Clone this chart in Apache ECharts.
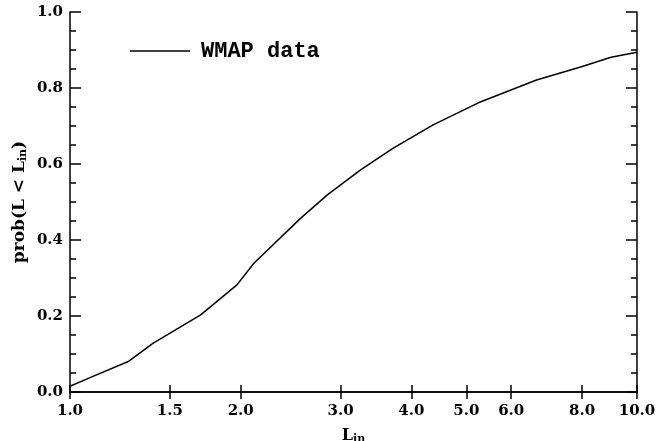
<!DOCTYPE html>
<html>
<head>
<meta charset="utf-8">
<script src="https://cdn.jsdelivr.net/npm/echarts@6/dist/echarts.min.js"></script>
<style>html,body{margin:0;padding:0;background:#fff;}#c{width:656px;height:441px;}</style>
</head>
<body>
<div id="c"></div>
<script>
const xValues = [1.00, 1.09, 1.27, 1.40, 1.70, 1.97, 2.11, 2.55, 2.84, 3.25, 3.71, 4.37, 5.25, 6.65, 7.98, 9.0, 10.0];
const yValues = [0.015, 0.039, 0.081, 0.128, 0.203, 0.282, 0.339, 0.457, 0.518, 0.584, 0.641, 0.703, 0.761, 0.821, 0.856, 0.881, 0.894];
const xTicks = [1.0, 1.5, 2.0, 3.0, 4.0, 5.0, 6.0, 8.0, 10.0];
const seriesName = 'WMAP data';

const chart = echarts.init(document.getElementById('c'), null, {renderer: 'canvas'});
const labelFont = {color: '#000', fontFamily: 'DejaVu Serif', fontWeight: 'bold', fontSize: 15};
const axisLine = {show: true, lineStyle: {color: '#000', width: 1.5}};
const tickStyle = {color: '#000', width: 1.5};

const option = {
  backgroundColor: '#fff',
  animation: false,
  grid: {left: 70, right: 19, top: 12, bottom: 49, containLabel: false, outerBoundsMode: 'none'},
  legend: {
    show: true,
    left: 125, top: 35,
    itemWidth: 60, itemHeight: 1.5,
    icon: 'rect',
    data: [seriesName],
    itemStyle: {color: '#000', borderWidth: 0},
    textStyle: {color: '#000', fontFamily: 'Liberation Mono', fontWeight: 'bold', fontSize: 22, padding: [0, 0, 0, 6]}
  },
  xAxis: [{
    type: 'log', logBase: 10, min: 1, max: 10,
    position: 'bottom',
    axisLine: axisLine,
    axisTick: {show: true, inside: true, length: 7, lineStyle: tickStyle, customValues: xTicks},
    axisLabel: Object.assign({margin: 12, customValues: xTicks, formatter: v => Number(v).toFixed(1)}, labelFont),
    splitLine: {show: false},
    minorTick: {show: false},
    name: '{m|L}{s|in}', nameLocation: 'middle', nameGap: 34,
    nameTextStyle: {rich: {
      m: {fontFamily: 'DejaVu Serif', fontWeight: 'bold', fontSize: 16, color: '#000'},
      s: {fontFamily: 'DejaVu Serif', fontWeight: 'bold', fontSize: 11, color: '#000', padding: [8, 0, 0, 0]}
    }}
  }, {
    type: 'log', logBase: 10, min: 1, max: 10,
    position: 'top',
    axisLine: axisLine,
    axisTick: {show: true, inside: true, length: 7, lineStyle: tickStyle, customValues: xTicks},
    axisLabel: {show: false, customValues: xTicks},
    splitLine: {show: false}
  }],
  yAxis: [{
    type: 'value', min: 0, max: 1, interval: 0.2,
    position: 'left',
    axisLine: axisLine,
    axisTick: {show: true, inside: true, length: 11, lineStyle: tickStyle},
    minorTick: {show: true, splitNumber: 4, length: 6, lineStyle: tickStyle},
    axisLabel: Object.assign({margin: 7, formatter: v => v.toFixed(1)}, labelFont),
    splitLine: {show: false},
    name: '{m|prob(L < L}{s|in}{m|)}', nameLocation: 'middle', nameGap: 41, nameMoveOverlap: false,
    nameTextStyle: {rich: {
      m: {fontFamily: 'DejaVu Serif', fontWeight: 'bold', fontSize: 17, color: '#000'},
      s: {fontFamily: 'DejaVu Serif', fontWeight: 'bold', fontSize: 11, color: '#000', padding: [8, 0, 0, 0]}
    }}
  }, {
    type: 'value', min: 0, max: 1, interval: 0.2,
    position: 'right',
    axisLine: axisLine,
    axisTick: {show: true, inside: true, length: 11, lineStyle: tickStyle},
    minorTick: {show: true, splitNumber: 4, length: 6, lineStyle: tickStyle},
    axisLabel: {show: false},
    splitLine: {show: false}
  }],
  series: [{
    name: seriesName,
    type: 'line',
    xAxisIndex: 0, yAxisIndex: 0,
    data: xValues.map((x, i) => [x, yValues[i]]),
    symbol: 'none', showSymbol: false,
    lineStyle: {color: '#000', width: 1.5},
    itemStyle: {color: '#000'}
  }]
};
chart.setOption(option);
</script>
</body>
</html>
